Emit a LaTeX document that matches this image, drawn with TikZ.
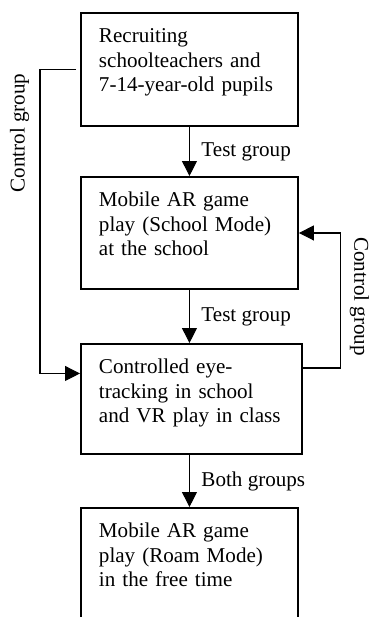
\documentclass[tikz,border=0pt]{standalone}
\usepackage{fontspec}
\setmainfont{Liberation Serif}
\usepackage{tikz}
\usetikzlibrary{arrows.meta}
\tikzset{
  every picture/.style={
    font=\fontsize{12}{14}\selectfont,
    line join=miter,
    >={Triangle[length=0.3cm,width=0.3cm]}, % filled triangle tips
  },
  stage/.style={draw, line width=1.1pt, anchor=north west, align=left,
    text width=3.62cm, inner xsep=0.36cm, inner ysep=0pt, text height=0.59cm},
  grouptag/.style={right, inner xsep=0.23cm},
}
\begin{document}
\begin{tikzpicture}[line width=0.6pt]
\useasboundingbox (0,0) rectangle (7.38,-12.34);
\clip (0,0) rectangle (7.38,-12.34);
% the four stages, top to bottom
\node[stage, text depth=1.67cm] (recruit) at (1.6,-0.24)
  {Recruiting\\schoolteachers and\\7-14-year-old pupils};
\node[stage, text depth=1.65cm] (schoolplay) at (1.6,-3.52)
  {Mobile AR game\\play (School Mode)\\at the school};
\node[stage, text width=3.70cm, text depth=1.61cm] (eyetrack) at (1.6,-6.86)
  {Controlled eye-\\tracking in school\\and VR play in class};
% last box runs off the bottom edge
\node[stage, text depth=3cm] (roamplay) at (1.6,-10.14)
  {Mobile AR game\\play (Roam Mode)\\in the free time};
\draw[->](recruit)--node[grouptag]{Test group}(schoolplay);
\draw[->](schoolplay.south)--node[grouptag]{Test group}(schoolplay.south|-eyetrack.north);
\draw[->](recruit.south|-eyetrack.south)--node[grouptag]{Both groups}(recruit.south|-roamplay.north);
% control group: skips the school play on the left
\draw[->,shorten <=0.08cm](recruit.west)--++(-0.8,0)|-([yshift=0.51cm]eyetrack.west);
\node[rotate=90] (ctrlleft) at (0.39,-2.66) {Control group};
% control group: back to the school play on the right
\draw[->]([yshift=0.62cm]eyetrack.east)--++(0.76,0)|-(schoolplay.east);
\node[rotate=-90] (ctrlright) at (7.19,-5.93) {Control group};
\end{tikzpicture}
\end{document}
